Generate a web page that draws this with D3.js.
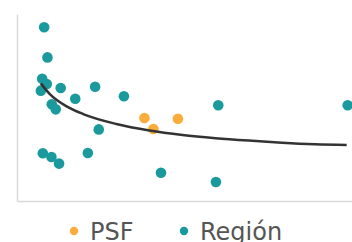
<!DOCTYPE html>
<html><head><meta charset="utf-8">
<script src="https://cdn.jsdelivr.net/npm/d3@7"></script>
<style>html,body{margin:0;padding:0;background:#fff;overflow:hidden}</style>
</head><body><svg id="c" width="352" height="242"></svg>
<script>
const regionX = [8.2, 9.2, 7.6, 9.0, 7.2, 13.2, 23.6, 17.6, 10.5, 11.7, 32.3, 24.7, 7.8, 10.4, 12.7, 21.4, 43.5, 60.8, 60.1, 99.9];
const regionY = [92.9, 76.8, 65.4, 62.6, 59.0, 60.4, 61.1, 54.7, 51.7, 49.0, 56.0, 38.3, 25.5, 23.5, 20.0, 25.7, 15.1, 51.2, 10.2, 51.2];
const psfX = [38.5, 41.2, 48.6];
const psfY = [44.4, 38.5, 44.0];
const trendX = [7.2, 10, 15, 20, 30, 40, 50, 60, 70, 80, 90, 99.6];
const trendY = [62.9, 57.0, 50.6, 46.5, 41.2, 37.7, 35.3, 33.6, 32.3, 31.2, 30.4, 30.0];
const legendLabels = ["PSF", "Región"];
const colors = {PSF: "#fbad3b", "Región": "#1a9a9c"};

const svg = d3.select("#c");
const x = d3.scaleLinear().domain([0, 100]).range([17, 348]);
const y = d3.scaleLinear().domain([0, 100]).range([201, 14]);

const axisStyle = g => { g.select(".domain").attr("stroke", "#d9d9d9").attr("stroke-width", 1.5); g.selectAll(".tick").remove(); };
svg.append("g").attr("transform", "translate(17,0)").call(d3.axisLeft(y).ticks(0).tickSizeOuter(0)).call(axisStyle);
const xa = d3.scaleLinear().domain([0, 100]).range([17, 352]);
svg.append("g").attr("transform", "translate(0,201)").call(d3.axisBottom(xa).ticks(0).tickSizeOuter(0)).call(axisStyle);

svg.append("g").selectAll("circle").data(regionX.map((v, i) => [v, regionY[i]])).join("circle")
  .attr("cx", d => x(d[0])).attr("cy", d => y(d[1])).attr("r", 5.3).attr("fill", colors["Región"]);
svg.append("g").selectAll("circle").data(psfX.map((v, i) => [v, psfY[i]])).join("circle")
  .attr("cx", d => x(d[0])).attr("cy", d => y(d[1])).attr("r", 5.3).attr("fill", colors.PSF);

svg.append("path").datum(trendX.map((v, i) => [v, trendY[i]]))
  .attr("d", d3.line().x(d => x(d[0])).y(d => y(d[1])).curve(d3.curveMonotoneX))
  .attr("fill", "none").attr("stroke", "#333").attr("stroke-width", 2.5);

const lx = d3.scalePoint().domain(legendLabels).range([74, 184]);
const lg = svg.append("g").selectAll("g").data(legendLabels).join("g")
  .attr("transform", d => `translate(${lx(d)},231)`);
lg.append("circle").attr("r", 4.2).attr("fill", d => colors[d]);
lg.append("text").attr("x", 16).attr("y", 8.6).text(d => d)
  .attr("font-family", "DejaVu Sans").attr("font-size", 24).attr("fill", "#555");
</script></body></html>
